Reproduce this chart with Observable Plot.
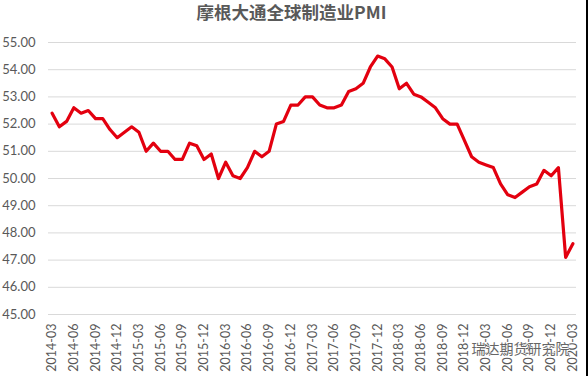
<!DOCTYPE html>
<html><head><meta charset="utf-8">
<script src="https://cdn.jsdelivr.net/npm/d3@7"></script>
<script src="https://cdn.jsdelivr.net/npm/@observablehq/plot@0.6"></script>
<style>
html,body{margin:0;padding:0;background:#fff;overflow:hidden}
#chart{position:relative;width:588px;height:376px}
#chart svg{display:block}
</style></head><body><div id="chart"></div>
<script>
const months = [
"2014-03","2014-04","2014-05","2014-06","2014-07","2014-08","2014-09","2014-10","2014-11","2014-12",
"2015-01","2015-02","2015-03","2015-04","2015-05","2015-06","2015-07","2015-08","2015-09","2015-10","2015-11","2015-12",
"2016-01","2016-02","2016-03","2016-04","2016-05","2016-06","2016-07","2016-08","2016-09","2016-10","2016-11","2016-12",
"2017-01","2017-02","2017-03","2017-04","2017-05","2017-06","2017-07","2017-08","2017-09","2017-10","2017-11","2017-12",
"2018-01","2018-02","2018-03","2018-04","2018-05","2018-06","2018-07","2018-08","2018-09","2018-10","2018-11","2018-12",
"2019-01","2019-02","2019-03","2019-04","2019-05","2019-06","2019-07","2019-08","2019-09","2019-10","2019-11","2019-12",
"2020-01","2020-02","2020-03"];
const pmi = [
52.4,51.9,52.1,52.6,52.4,52.5,52.2,52.2,51.8,51.5,
51.7,51.9,51.7,51.0,51.3,51.0,51.0,50.7,50.7,51.3,51.2,50.7,
50.9,50.0,50.6,50.1,50.0,50.4,51.0,50.8,51.0,52.0,52.1,52.7,
52.7,53.0,53.0,52.7,52.6,52.6,52.7,53.2,53.3,53.5,54.1,54.5,
54.4,54.1,53.3,53.5,53.1,53.0,52.8,52.6,52.2,52.0,52.0,51.4,
50.8,50.6,50.5,50.4,49.8,49.4,49.3,49.5,49.7,49.8,50.3,50.1,
50.4,47.1,47.6];
const yTicks = [45,46,47,48,49,50,51,52,53,54,55];
const xTicks = months.filter((_, i) => i % 3 === 0);
const title = "摩根大通全球制造业PMI";
const watermark = "瑞达期货研究院";
const rows = months.map((m, i) => ({month: m, value: pmi[i]}));

const chart = Plot.plot({
  width: 586, height: 376,
  marginLeft: 48, marginRight: 10, marginTop: 42, marginBottom: 62,
  style: {background: "#fff", fontFamily: "Lato, 'Noto Sans', sans-serif"},
  x: {type: "point", domain: months, padding: 0.5, round: false, label: null},
  y: {domain: [45, 55], label: null},
  marks: [
    Plot.ruleY(yTicks, {stroke: "#d9d9d9", strokeWidth: 1}),
    Plot.axisY(yTicks, {tickFormat: d3.format(".2f"), tickSize: 0, tickPadding: 13, fontSize: 13, color: "#595959", label: null}),
    Plot.axisX(xTicks, {tickRotate: -90, tickSize: 0, tickPadding: 9, fontSize: 12.5, color: "#595959", label: null}),
    Plot.line(rows, {x: "month", y: "value", stroke: "#e3000f", strokeWidth: 3.2, strokeLinejoin: "round", curve: "linear"}),
    Plot.text([title], {text: d => d, frameAnchor: "top", lineAnchor: "middle", dx: -21, dy: -29, fontSize: 17.5, fontWeight: "bold", fill: "#595959", fontFamily: "'Noto Sans CJK SC', serif"}),
    Plot.text([watermark], {text: d => d, frameAnchor: "bottom-right", lineAnchor: "middle", dx: -7, dy: 35, fontSize: 14, fill: "#666", stroke: "#fff", strokeWidth: 1, fontFamily: "'Noto Sans CJK SC', sans-serif"})
  ]
});
document.getElementById("chart").appendChild(chart);
chart.style.borderRight = "2px solid #000";
</script></body></html>
